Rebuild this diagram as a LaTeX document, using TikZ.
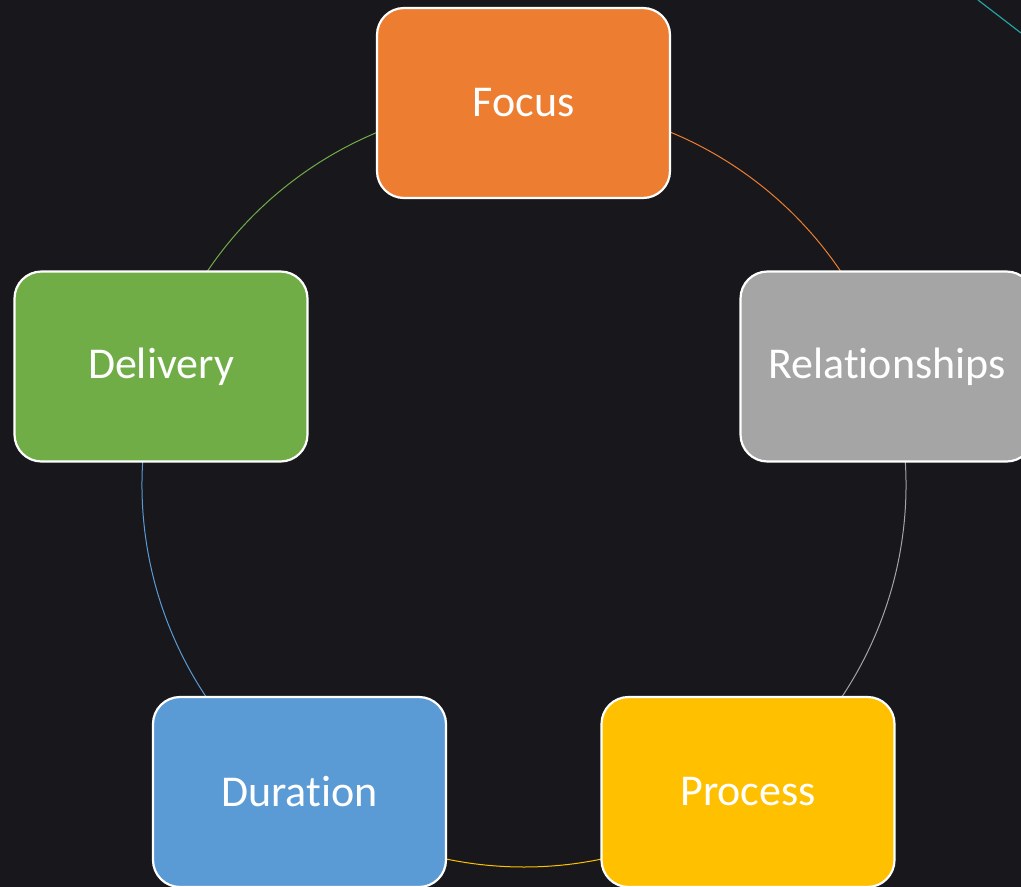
\documentclass[tikz,border=0pt]{standalone}
\usepackage{fontspec}
\setmainfont[Ligatures=NoCommon]{Carlito}
\definecolor{bg}{RGB}{24,23,28}
\definecolor{corange}{RGB}{237,125,49}
\definecolor{cgray}{RGB}{165,165,165}
\definecolor{cyellow}{RGB}{255,192,0}
\definecolor{cblue}{RGB}{91,155,213}
\definecolor{cgreen}{RGB}{112,173,71}
\definecolor{cteal}{RGB}{38,160,160}
\begin{document}
\begin{tikzpicture}[x=1pt,y=-1pt,
  cbox/.style={draw=white,line width=2.2pt,rounded corners=27pt,minimum width=293pt,minimum height=190pt,text=white,font=\fontsize{44}{52}\selectfont,inner sep=0pt},
  link/.style={line width=1pt}]
\useasboundingbox (0,0) rectangle (1021,887);
\clip (0,0) rectangle (1021,887);
\fill[bg] (0,0) rectangle (1021,887);
\coordinate (c) at (524,485);
\coordinate (t1) at (978,0);
\coordinate (t2) at (1021,33);
\draw[cteal,line width=1.2pt] (t1) -- (t2);
% arcs (y axis points down, so angles are mirrored)
\draw[link,corange] (c) ++(-90:382) arc[start angle=-90,end angle=-18,radius=382];
\draw[link,cgray] (c) ++(-18:382) arc[start angle=-18,end angle=54,radius=382];
\draw[link,cyellow] (c) ++(54:382) arc[start angle=54,end angle=126,radius=382];
\draw[link,cblue] (c) ++(126:382) arc[start angle=126,end angle=198,radius=382];
\draw[link,cgreen] (c) ++(198:382) arc[start angle=198,end angle=270,radius=382];
\node[cbox,fill=corange] (focus) at (523.5,103) {Focus};
\node[cbox,fill=cgray] (rel) at (887,366.5) {Relationships};
\node[cbox,fill=cyellow] (proc) at (748,792) {Process};
\node[cbox,fill=cblue] (dur) at (299.5,792) {Duration};
\node[cbox,fill=cgreen] (del) at (161,366.5) {Delivery};
\end{tikzpicture}
\end{document}
